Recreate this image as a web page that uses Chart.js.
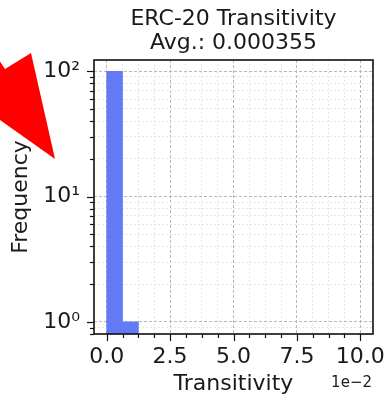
<!DOCTYPE html>
<html>
<head>
<meta charset="utf-8">
<script src="https://cdn.jsdelivr.net/npm/chart.js@4.4.1/dist/chart.umd.min.js"></script>
<style>
  html, body { margin: 0; padding: 0; background: #fff; }
  canvas { display: block; }
</style>
</head>
<body>
<canvas id="transitivity" width="386" height="398"></canvas>
<script>
// histogram: bin centres (transitivity) and counts per bin
const binCentres = [0.003125, 0.009375];
const frequency = [100, 1];

const titleLines = ['ERC-20 Transitivity', 'Avg.: 0.000355'];
const xMajorTicks = [0, 0.025, 0.05, 0.075, 0.1];
const yMajorTicks = [1, 10, 100];
const xLabel = 'Transitivity';
const yLabel = 'Frequency';
const xOffsetText = '1e\u22122';

const X_MIN = -0.005, X_MAX = 0.105;
const Y_MIN = 0.8, Y_MAX = 123;
const TEXT = '#1a1a1a';
const SUP = {'0': '\u2070', '1': '\u00b9', '2': '\u00b2', '3': '\u00b3', '-': '\u207b'};

Chart.defaults.font.family = "'DejaVu Sans', sans-serif";
Chart.defaults.color = TEXT;

function xTickList() {
    const out = [];
    for (let i = 0; i < xMajorTicks.length; i++) {
        out.push({value: xMajorTicks[i], isMajor: true});
        if (i < xMajorTicks.length - 1) {
            const step = (xMajorTicks[i + 1] - xMajorTicks[i]) / 4;
            for (let k = 1; k < 4; k++) out.push({value: xMajorTicks[i] + k * step, isMajor: false});
        }
    }
    return out;
}

function yTickList() {
    const out = [];
    const lo = Math.floor(Math.log10(Y_MIN)), hi = Math.ceil(Math.log10(Y_MAX));
    for (let e = lo; e <= hi; e++) {
        for (let m = 1; m <= 9; m++) {
            const v = m * Math.pow(10, e);
            if (v >= Y_MIN && v <= Y_MAX) out.push({value: v, isMajor: yMajorTicks.includes(v)});
        }
    }
    return out;
}

function isMajor(ctx) {
    return ctx.tick && ctx.tick.isMajor;
}

/*frame, tick marks, title, offset text and the red arrow*/
const decorations = {
    id: 'decorations',
    afterDraw(chart) {
        const {ctx, chartArea: a, scales: {x, y}} = chart;
        ctx.save();

        ctx.strokeStyle = '#111';
        ctx.lineWidth = 1.6;
        ctx.strokeRect(a.left, a.top, a.right - a.left, a.bottom - a.top);

        ctx.lineWidth = 1.2;
        x.ticks.forEach(t => {
            const px = Math.round(x.getPixelForValue(t.value)) + 0.5;
            ctx.beginPath();
            ctx.moveTo(px, a.bottom);
            ctx.lineTo(px, a.bottom + (t.isMajor ? 7 : 4));
            ctx.stroke();
        });
        y.ticks.forEach(t => {
            const py = Math.round(y.getPixelForValue(t.value)) + 0.5;
            ctx.beginPath();
            ctx.moveTo(a.left, py);
            ctx.lineTo(a.left - (t.isMajor ? 7 : 4), py);
            ctx.stroke();
        });

        ctx.fillStyle = TEXT;
        ctx.textAlign = 'center';
        ctx.textBaseline = 'alphabetic';
        ctx.font = "22px 'DejaVu Sans'";
        const cx = (a.left + a.right) / 2;
        ctx.fillText(titleLines[0], cx, 25);
        ctx.fillText(titleLines[1], cx, 49);

        ctx.font = "15px 'DejaVu Sans'";
        ctx.textAlign = 'right';
        ctx.textBaseline = 'middle';
        ctx.fillText(xOffsetText, a.right - 1, 383);

        ctx.fillStyle = '#ff0000';
        ctx.beginPath();
        ctx.moveTo(55, 159);
        ctx.lineTo(31, 53);
        ctx.lineTo(5, 69);
        ctx.lineTo(-50, -14);
        ctx.lineTo(-64, -5);
        ctx.lineTo(-9, 78);
        ctx.lineTo(-34, 96);
        ctx.closePath();
        ctx.fill();

        ctx.restore();
    }
};

const ctx1 = document.getElementById('transitivity').getContext('2d');
const chartTransitivity = new Chart(ctx1, {
    type: 'bar',
    data: {
        datasets: [{
            data: binCentres.map((v, i) => ({x: v, y: frequency[i]})),
            backgroundColor: '#627bf4',
            borderWidth: 0,
            barPercentage: 1,
            categoryPercentage: 1,
        }]
    },
    options: {
        responsive: false,
        animation: false,
        layout: {
            padding: {top: 60, right: 13, left: 0, bottom: 0}
        },
        scales: {
            x: {
                type: 'linear',
                min: X_MIN,
                max: X_MAX,
                offset: false,
                afterBuildTicks: (scale) => { scale.ticks = xTickList(); },
                afterFit: (scale) => {
                    scale.height = 64;
                    scale.paddingLeft = 0;
                    scale.paddingRight = 0;
                },
                grid: {
                    offset: false,
                    drawTicks: false,
                    color: (c) => isMajor(c) ? '#b8b8b8' : '#e6e6e6',
                    lineWidth: 1,
                },
                border: {
                    display: false,
                    dash: (c) => isMajor(c) ? [3, 2] : [2, 2],
                },
                ticks: {
                    autoSkip: false,
                    maxRotation: 0,
                    padding: 10,
                    font: {size: 22},
                    color: TEXT,
                    callback: (value, index, ticks) =>
                        ticks[index].isMajor ? (value * 100).toFixed(1) : '',
                },
                title: {
                    display: true,
                    text: xLabel,
                    font: {size: 22},
                    color: TEXT,
                    padding: {top: 0, bottom: 1},
                },
            },
            y: {
                type: 'logarithmic',
                min: Y_MIN,
                max: Y_MAX,
                afterBuildTicks: (scale) => { scale.ticks = yTickList(); },
                afterFit: (scale) => {
                    scale.width = 94;
                    scale.paddingTop = 0;
                    scale.paddingBottom = 0;
                },
                grid: {
                    drawTicks: false,
                    color: (c) => isMajor(c) ? '#b8b8b8' : '#e6e6e6',
                    lineWidth: 1,
                },
                border: {
                    display: false,
                    dash: (c) => isMajor(c) ? [3, 2] : [2, 2],
                },
                ticks: {
                    autoSkip: false,
                    padding: 14,
                    font: {size: 22},
                    color: TEXT,
                    callback: (value, index, ticks) => {
                        if (!ticks[index].isMajor) return '';
                        const e = String(Math.round(Math.log10(value)));
                        return '10' + e.split('').map(ch => SUP[ch]).join('');
                    },
                },
                title: {
                    display: true,
                    text: yLabel,
                    font: {size: 22},
                    color: TEXT,
                    padding: {top: 8, bottom: 0},
                },
            },
        },
        plugins: {
            legend: {display: false},
            tooltip: {enabled: false},
        },
    },
    plugins: [decorations],
});
</script>
</body>
</html>
